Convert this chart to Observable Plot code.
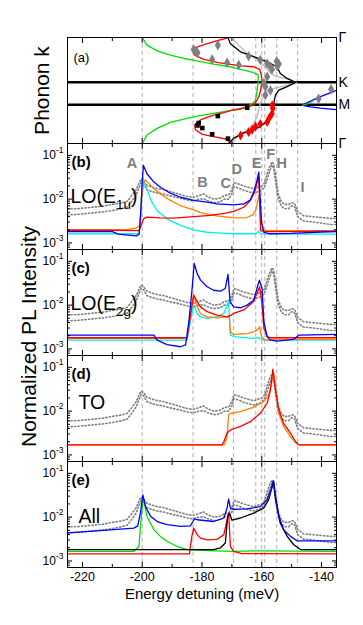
<!DOCTYPE html>
<html><head><meta charset="utf-8">
<script src="https://cdn.jsdelivr.net/npm/d3@7"></script>
<script src="https://cdn.jsdelivr.net/npm/@observablehq/plot@0.6"></script>
<style>
body{margin:0;background:#fff;}
#chart{position:relative;width:363px;height:625px;overflow:hidden;background:#fff;}
</style></head><body><div id="chart"></div>
<script>
// ---------- DATA ----------
// Panel (a): phonon dispersion, [energy detuning meV, k position along Γ-K-M-Γ (0..1)]
const kTicks = [0, 0.423, 0.634, 1];
const kNames = ["Γ", "K", "M", "Γ"];
const aGreen = [[-200,0],[-198.4,0.072],[-195,0.126],[-190.6,0.166],[-186.1,0.198],[-181.6,0.22],[-176.1,0.251],[-170.5,0.276],[-167.1,0.30],[-163,0.33],[-161.2,0.35],[-161.2,0.42],[-161.8,0.55],[-162.2,0.60],[-163.5,0.63],[-167.1,0.678],[-170.5,0.69],[-176.1,0.716],[-181.6,0.741],[-186.1,0.77],[-190.6,0.80],[-195,0.857],[-198.4,0.92],[-200,1]];
const aRed = [[-171,0],[-176.1,0.04],[-181.6,0.088],[-182.8,0.119],[-182.5,0.166],[-179.4,0.207],[-174.5,0.238],[-170.5,0.254],[-167.1,0.267],[-162.7,0.276],[-160.7,0.30],[-160.2,0.35],[-159.9,0.40],[-160.4,0.50],[-161.0,0.56],[-161.6,0.59],[-162.7,0.637],[-166,0.665],[-170,0.685],[-172.7,0.709],[-177.2,0.741],[-180.5,0.778],[-182.5,0.825],[-182.2,0.87],[-179.9,0.914],[-176.1,0.935],[-171.6,0.96],[-170.5,1]];
const aBlack = [[-171.3,0],[-170.5,0.06],[-167.1,0.135],[-162.7,0.18],[-158.2,0.23],[-154.9,0.276],[-153.8,0.339],[-151.5,0.386],[-148.7,0.424],[-151.5,0.464],[-154.3,0.496],[-155.4,0.543],[-155.8,0.59],[-156.0,0.637],[-156.5,0.716],[-158.2,0.79],[-160.5,0.84],[-162.7,0.87],[-166,0.90],[-169.4,0.95],[-171.1,1]];
const aLight = [[-169.9,0],[-168.2,0.06],[-164.9,0.15],[-161.6,0.21],[-158.8,0.276],[-157.1,0.339],[-154.9,0.37],[-150.4,0.40],[-148.2,0.433],[-152,0.455],[-156,0.48],[-158.2,0.50],[-159.5,0.56],[-160.5,0.62],[-161,0.68],[-161.6,0.747],[-162.7,0.81],[-164.9,0.87],[-168.2,0.935],[-169.9,1]];
const aBlue = [[-133,0.47],[-136,0.51],[-140.4,0.558],[-143.7,0.60],[-146.5,0.64],[-143.7,0.655],[-140.4,0.667],[-136,0.678],[-133,0.685]];
const aGreenTip = [[-146.3,0.64],[-144.5,0.625],[-143,0.60]];
const aGrayDia = [[-182.8,0.113],[-182.2,0.13],[-181.5,0.145],[-174.7,0.072],[-176.6,0.207],[-171.6,0.238],[-167.7,0.26],[-164.4,0.176],[-160.5,0.213],[-158.2,0.245],[-157.1,0.276],[-156.6,0.30],[-154.3,0.25],[-154.8,0.27],[-155,0.225],[-158.2,0.37],[-159.3,0.433],[-158.8,0.464],[-157.1,0.50],[-158.8,0.543],[-141,0.577],[-136.8,0.489]];
const aBlackSq = [[-181.1,0.807],[-181.5,0.83],[-179.9,0.854],[-176.6,0.913],[-174.7,0.741],[-171.3,0.954],[-164.9,0.662]];
const aRedDia = [[-156.5,0.64],[-156.3,0.67],[-156.6,0.72],[-157.5,0.76],[-158.2,0.797],[-160.5,0.815],[-162.1,0.84],[-163.2,0.87],[-164.4,0.893],[-167.1,0.925]];

// Experimental PL (gray), [energy meV, log10 intensity] lower / upper edge of the noisy band
const expLo = [[-225,-2.36],[-222,-2.35],[-219,-2.33],[-216,-2.31],[-213,-2.29],[-210,-2.26],[-207,-2.22],[-205,-2.18],[-203.5,-2.05],[-202,-1.90],[-201,-1.72],[-200.3,-1.62],[-199.5,-1.65],[-198.5,-1.78],[-197,-1.82],[-195,-1.86],[-193,-1.88],[-191,-1.92],[-189,-1.95],[-187,-1.98],[-185,-2.02],[-183,-2.04],[-181,-2.00],[-179.5,-1.99],[-178,-2.04],[-176,-2.08],[-174,-2.06],[-172.5,-2.00],[-171,-2.00],[-170,-1.88],[-169.3,-1.72],[-168,-1.74],[-166,-1.80],[-164,-1.84],[-162.5,-1.86],[-161,-1.82],[-160,-1.80],[-159,-1.70],[-158.2,-1.55],[-157.3,-1.35],[-156.6,-1.22],[-156,-1.30],[-155.3,-1.65],[-154.5,-1.98],[-153.5,-2.15],[-152.5,-2.22],[-151,-2.22],[-150,-2.15],[-149,-2.18],[-148,-2.40],[-146,-2.50],[-143,-2.52],[-140,-2.55],[-137,-2.58],[-135,-2.58]];
const expHi = [[-225,-2.22],[-222,-2.22],[-219,-2.20],[-216,-2.18],[-213,-2.16],[-210,-2.12],[-207,-2.09],[-205,-2.05],[-203.5,-1.92],[-202,-1.78],[-201,-1.62],[-200.3,-1.54],[-199.5,-1.58],[-198.5,-1.68],[-197,-1.72],[-195,-1.76],[-193,-1.78],[-191,-1.82],[-189,-1.86],[-187,-1.90],[-185,-1.94],[-183,-1.96],[-181,-1.92],[-179.5,-1.88],[-178,-1.95],[-176,-2.00],[-174,-1.98],[-172.5,-1.92],[-171,-1.90],[-170,-1.78],[-169.3,-1.62],[-168,-1.65],[-166,-1.70],[-164,-1.74],[-162.5,-1.76],[-161,-1.72],[-160,-1.70],[-159,-1.62],[-158.2,-1.42],[-157.3,-1.25],[-156.6,-1.15],[-156,-1.20],[-155.3,-1.50],[-154.5,-1.88],[-153.5,-2.05],[-152.5,-2.12],[-151,-2.12],[-150,-2.08],[-149,-2.10],[-148,-2.28],[-146,-2.38],[-143,-2.40],[-140,-2.42],[-137,-2.44],[-135,-2.44]];

// Panel (b) LO(E1u), [energy meV, log10 intensity]
const bBlue = [[-225,-2.74],[-210,-2.74],[-208,-2.80],[-202,-2.84],[-201,-2.80],[-200.5,-2.3],[-200,-1.6],[-199.6,-1.23],[-198.4,-1.42],[-196.1,-1.61],[-193.9,-1.73],[-190.6,-1.865],[-187.2,-1.957],[-182.8,-2.03],[-178.3,-2.07],[-175,-2.11],[-169.4,-2.13],[-166,-2.11],[-163.8,-2.016],[-162.7,-1.84],[-161.6,-1.575],[-161,-1.386],[-160.5,-2.03],[-160.1,-2.53],[-159.3,-2.76],[-157.7,-2.79],[-150,-2.78],[-140,-2.75],[-135,-2.74]];
const bRed = [[-225,-2.71],[-210,-2.71],[-201.2,-2.72],[-200.3,-2.6],[-199.6,-2.45],[-198.4,-2.41],[-194,-2.43],[-189.4,-2.435],[-182.8,-2.40],[-177.2,-2.37],[-172,-2.32],[-169.4,-2.28],[-166,-2.185],[-163.8,-2.03],[-162.2,-1.80],[-161.4,-1.575],[-161,-1.50],[-160.4,-2.72],[-159,-2.74],[-150,-2.74],[-140,-2.73],[-135,-2.73]];
const bOrange = [[-225,-2.70],[-206,-2.70],[-202,-2.66],[-200.8,-2.6],[-200.2,-2.0],[-199.5,-1.62],[-198.9,-1.56],[-196.1,-1.765],[-193.9,-1.88],[-190.6,-2.03],[-187.2,-2.146],[-182.8,-2.245],[-180.5,-2.31],[-175,-2.38],[-169.4,-2.43],[-165,-2.42],[-163,-2.36],[-162,-2.25],[-161.2,-2.0],[-160.8,-1.9],[-160.3,-2.4],[-159.5,-2.7],[-158,-2.72],[-135,-2.72]];
const bCyan = [[-225,-2.79],[-201.2,-2.79],[-200.6,-2.6],[-200.2,-1.9],[-199.8,-1.50],[-199.3,-1.6],[-198.6,-1.73],[-197.1,-2.03],[-195.1,-2.26],[-191.7,-2.45],[-187.2,-2.60],[-182.8,-2.70],[-178.3,-2.756],[-175,-2.77],[-169.4,-2.79],[-162,-2.79],[-161,-2.73],[-160.5,-2.79],[-150,-2.80],[-135,-2.80]];

// Panel (c) LO(E2g)
const cBlue = [[-225,-2.685],[-196.1,-2.685],[-195,-2.80],[-191.7,-2.90],[-187.2,-2.95],[-185.5,-2.91],[-184.4,-2.38],[-183.3,-1.62],[-182.6,-1.05],[-181.6,-1.28],[-180.5,-1.43],[-178.3,-1.58],[-176.1,-1.66],[-173.8,-1.68],[-172.2,-1.62],[-171.3,-1.30],[-170.6,-1.92],[-169.4,-2.04],[-167.1,-2.06],[-164.9,-2.0],[-162.7,-1.89],[-161.6,-1.62],[-160.8,-1.43],[-159.9,-1.62],[-159.3,-2.38],[-158.2,-2.72],[-157.1,-2.80],[-154.9,-2.82],[-149.3,-2.78],[-147.6,-2.685],[-135,-2.67]];
const cRed = [[-225,-2.745],[-185,-2.745],[-183.9,-2.23],[-182.8,-1.77],[-181.6,-1.92],[-180.5,-2.04],[-178.3,-2.15],[-175,-2.23],[-171.6,-2.27],[-170.5,-2.24],[-169.4,-2.19],[-166,-2.11],[-162.7,-1.92],[-161.6,-1.73],[-160.7,-1.58],[-159.9,-2.0],[-159.3,-2.53],[-158.2,-2.72],[-157,-2.745],[-135,-2.745]];
const cOrange = [[-225,-2.76],[-187,-2.76],[-185,-2.74],[-183.6,-2.15],[-182.8,-1.77],[-181.6,-2.04],[-180.5,-2.19],[-178.3,-2.27],[-175,-2.29],[-171.6,-2.27],[-170.9,-2.23],[-170.5,-2.61],[-169.4,-2.67],[-164.9,-2.65],[-162.7,-2.61],[-161.6,-2.57],[-160.7,-2.50],[-160.1,-2.72],[-158.8,-2.80],[-157,-2.78],[-135,-2.78]];
const cCyan = [[-225,-2.80],[-185,-2.80],[-183.9,-2.38],[-182.8,-2.0],[-181.6,-2.19],[-180.5,-2.27],[-178.3,-2.30],[-175,-2.27],[-172.7,-2.19],[-171.6,-2.0],[-171.1,-1.92],[-170.5,-2.685],[-169.4,-2.72],[-162.7,-2.76],[-161.2,-2.74],[-159.3,-2.80],[-135,-2.80]];

// Panel (d) TO
const dRed = [[-225,-2.77],[-173.3,-2.77],[-172.7,-2.70],[-171.6,-2.50],[-170.5,-2.43],[-167.1,-2.35],[-163.8,-2.24],[-160.5,-2.05],[-158.2,-1.82],[-157.1,-1.52],[-156.3,-1.04],[-155.4,-1.52],[-154.3,-1.97],[-152.7,-2.28],[-150.4,-2.50],[-148.7,-2.70],[-147.6,-2.77],[-135,-2.77]];
const dOrange = [[-225,-2.77],[-172.5,-2.77],[-171.6,-2.58],[-171.1,-2.09],[-170.5,-2.05],[-167.1,-2.01],[-162.7,-1.91],[-159.3,-1.78],[-157.7,-1.63],[-156.5,-1.29],[-156.0,-1.14],[-155.4,-1.45],[-154.3,-2.05],[-152.7,-2.35],[-150.4,-2.58],[-148.2,-2.75],[-147.5,-2.77],[-135,-2.77]];

// Panel (e) All
const eBlue = [[-225,-2.36],[-214,-2.31],[-202.8,-2.25],[-201.5,-2.2],[-200.6,-1.91],[-199.8,-1.49],[-198.9,-1.76],[-197.2,-1.98],[-195,-2.10],[-191.7,-2.17],[-187.2,-2.21],[-183.9,-2.20],[-183,-2.10],[-182.5,-2.04],[-181.6,-2.06],[-176.1,-2.10],[-172.7,-2.02],[-171.6,-1.79],[-171.1,-1.59],[-170.5,-1.79],[-169.4,-1.82],[-164.9,-1.81],[-160.5,-1.76],[-158.2,-1.60],[-156.9,-1.37],[-156.2,-1.18],[-155.4,-1.53],[-154.3,-1.98],[-152.7,-2.29],[-150.4,-2.44],[-148.2,-2.54],[-135,-2.54]];
const eBlack = [[-225,-2.74],[-176.1,-2.74],[-173.8,-2.70],[-172.2,-2.59],[-171.4,-1.98],[-170.8,-1.91],[-170.0,-2.07],[-167.1,-2.02],[-162.7,-1.91],[-159.3,-1.79],[-157.7,-1.60],[-156.5,-1.30],[-156.0,-1.18],[-155.4,-1.60],[-153.8,-2.14],[-151.5,-2.44],[-149.3,-2.63],[-147,-2.74],[-135,-2.74]];
const eGreen = [[-225,-2.78],[-202.8,-2.78],[-201.1,-2.67],[-200.2,-1.91],[-199.6,-1.56],[-198.4,-1.98],[-196.1,-2.29],[-193.9,-2.44],[-191.7,-2.55],[-188.3,-2.67],[-185,-2.74],[-180.5,-2.76],[-170,-2.78],[-161,-2.77],[-135,-2.78]];
const eRed = [[-225,-2.84],[-184.2,-2.84],[-183.4,-2.44],[-182.8,-2.25],[-181.6,-2.40],[-180.5,-2.48],[-178.3,-2.52],[-175,-2.51],[-172.7,-2.40],[-171.6,-2.06],[-171.1,-1.91],[-170.5,-2.67],[-169.4,-2.78],[-167,-2.83],[-135,-2.84]];

// Peak labels (panel b) and dashed reference energies
const peakNames = ["A","B","C","D","E","F","H","I"];
const peakE = [-203.4,-179.8,-172.1,-168.4,-161.7,-157,-153.3,-146.4];
const peakLog = [-1.19,-1.61,-1.64,-1.33,-1.18,-0.98,-1.18,-1.74];
const dashE = [-200,-183,-169.5,-162,-160,-159,-155,-148];

// Tick labels
const xTickLabels = [-220,-200,-180,-160,-140];
const xMinorTicks = [-210,-190,-170,-150];
const yTickLabels = [1e-3, 1e-2, 1e-1];

// ---------- LAYOUT ----------
const FONT = "Arial, 'Liberation Sans', sans-serif";
const W = 363, ML = 67, MR = 27, PH = 106, PAD = 10;
const tops = [37, 143, 249, 355, 461];
const xDomain = [-225, -135];
const logDomain = [Math.pow(10, -3.15), Math.pow(10, -0.73)];
const chart = document.getElementById("chart");

const C = {blue:"#0000ff", red:"#ff0000", orange:"#ff8000", cyan:"#00f0f0", green:"#00e000", black:"#000000", gray:"#7f7f7f", light:"#b8b8b8", dash:"#b0b0b0"};

const kRows = arr => arr.map(([e, k]) => ({e, k}));
const lRows = arr => arr.map(([e, l]) => ({e, v: Math.pow(10, l)}));

const yMinorTicks = [];
for (let p = -4; p <= -1; p++) for (let m = 2; m <= 9; m++) {
  const v = m * Math.pow(10, p);
  if (v > logDomain[0] && v < logDomain[1]) yMinorTicks.push(v);
}

function xFrameTicks() {
  return [
    Plot.axisX({anchor: "bottom", ticks: xTickLabels, tickSize: 5, dy: -5, fill: "none", label: null}),
    Plot.axisX({anchor: "bottom", ticks: xMinorTicks, tickSize: 3, dy: -3, fill: "none", label: null}),
    Plot.axisX({anchor: "top", ticks: xTickLabels, tickSize: 5, dy: 5, fill: "none", label: null}),
    Plot.axisX({anchor: "top", ticks: xMinorTicks, tickSize: 3, dy: 3, fill: "none", label: null})
  ];
}
function yLogTicks() {
  return [
    Plot.axisY({anchor: "left", ticks: yTickLabels, tickSize: 5, dx: 5, fill: "none", label: null}),
    Plot.axisY({anchor: "left", ticks: yMinorTicks, tickSize: 3, dx: 3, fill: "none", label: null}),
    Plot.axisY({anchor: "right", ticks: yTickLabels, tickSize: 5, dx: -5, fill: "none", label: null}),
    Plot.axisY({anchor: "right", ticks: yMinorTicks, tickSize: 3, dx: -3, fill: "none", label: null}),
    Plot.axisY({anchor: "left", ticks: yTickLabels, tickSize: 0, tickPadding: 4, fontSize: 12,
      tickFormat: d => "10^" + Math.round(Math.log10(d)), label: null})
  ];
}
function dashRules() {
  return Plot.ruleX(dashE, {x: d => d, stroke: C.dash, strokeDasharray: "4,3", strokeWidth: 1});
}
function expMarks() {
  return [
    Plot.line(lRows(expLo), {x: "e", y: "v", stroke: C.gray, strokeWidth: 1.6, strokeDasharray: "1.2,2.3"}),
    Plot.line(lRows(expHi), {x: "e", y: "v", stroke: C.gray, strokeWidth: 1.6, strokeDasharray: "1.2,2.3"})
  ];
}
const ln = (arr, color) => Plot.line(lRows(arr), {x: "e", y: "v", stroke: color, strokeWidth: 1.3});

function fixText(svg) {
  // drop invisible tick-label groups of the tick-only axes
  d3.select(svg).selectAll("g").filter(function () {
    return this.getAttribute("fill") === "none" && this.querySelector("text");
  }).remove();
  d3.select(svg).selectAll("text").each(function () {
    const t = this.textContent;
    let m = /^10\^(-?\d+)$/.exec(t);
    if (m) {
      const s = d3.select(this); s.text("");
      s.append("tspan").text("10");
      s.append("tspan").attr("dy", -6).attr("font-size", 8.5).text(m[1]);
      return;
    }
    m = /^(.*)_\{(.*)\}(.*)$/.exec(t);
    if (m) {
      const s = d3.select(this); s.text("");
      s.append("tspan").text(m[1]);
      s.append("tspan").attr("dy", 6).attr("font-size", 13.5).text(m[2]);
      s.append("tspan").attr("dy", -6).text(m[3]);
    }
  });
}
function place(svg, top) {
  fixText(svg);
  svg.style.position = "absolute";
  svg.style.left = "0px";
  svg.style.top = top + "px";
  svg.style.overflow = "visible";
  svg.style.background = "transparent";
  chart.appendChild(svg);
}
const baseStyle = {fontFamily: FONT, fontSize: "12px", background: "transparent", overflow: "visible", color: "black"};

// ---------- PANEL (a) ----------
place(Plot.plot({
  width: W, height: PH + 2 * PAD, marginLeft: ML, marginRight: MR, marginTop: PAD, marginBottom: PAD,
  style: baseStyle,
  x: {domain: xDomain},
  y: {domain: [0, 1], reverse: true},
  marks: [
    dashRules(),
    Plot.ruleY([kTicks[1], kTicks[2]], {y: d => d, stroke: "black", strokeWidth: 2.5}),
    Plot.line(kRows(aLight), {x: "e", y: "k", stroke: C.light, strokeWidth: 1.3, clip: true}),
    Plot.line(kRows(aGreen), {x: "e", y: "k", stroke: C.green, strokeWidth: 1.3, clip: true}),
    Plot.line(kRows(aRed), {x: "e", y: "k", stroke: C.red, strokeWidth: 1.3, clip: true}),
    Plot.line(kRows(aBlack), {x: "e", y: "k", stroke: C.black, strokeWidth: 1.3, clip: true}),
    Plot.line(kRows(aBlue), {x: "e", y: "k", stroke: C.blue, strokeWidth: 1.3, clip: true}),
    Plot.line(kRows(aGreenTip), {x: "e", y: "k", stroke: C.green, strokeWidth: 1.3, clip: true}),
    Plot.dot(kRows(aGrayDia), {x: "e", y: "k", symbol: "diamond", r: 3.2, fill: C.gray, stroke: "none"}),
    Plot.dot(kRows(aBlackSq), {x: "e", y: "k", symbol: "square", r: 2.6, fill: "black", stroke: "none"}),
    Plot.dot(kRows(aRedDia), {x: "e", y: "k", symbol: "diamond", r: 3, fill: C.red, stroke: "none"}),
    ...xFrameTicks(),
    Plot.axisY({anchor: "right", ticks: kTicks, tickSize: 0, tickPadding: 2, fontSize: 14,
      tickFormat: d => kNames[kTicks.indexOf(d)], label: null}),
    Plot.text(["(a)"], {text: d => d, frameAnchor: "top-left", dx: 6, dy: 15, fontSize: 13, textAnchor: "start"}),
    Plot.text(["Phonon k"], {text: d => d, frameAnchor: "left", dx: -25.5, rotate: -90, fontSize: 21, textAnchor: "middle"}),
    Plot.frame({stroke: "black", strokeWidth: 1})
  ]
}), tops[0] - PAD);

// ---------- LOG PANELS ----------
function logPanel(top, letter, name, nameDx, nameDy, lines, extra, mb) {
  const marginBottom = mb || PAD;
  return place(Plot.plot({
    width: W, height: PH + PAD + marginBottom, marginLeft: ML, marginRight: MR, marginTop: PAD, marginBottom,
    style: baseStyle,
    x: {domain: xDomain},
    y: {type: "log", domain: logDomain},
    marks: [
      dashRules(),
      ...expMarks(),
      ...lines,
      ...(extra || []),
      ...xFrameTicks(),
      ...yLogTicks(),
      Plot.text([letter], {text: d => d, frameAnchor: "top-left", dx: 4, dy: 13, fontSize: 15, fontWeight: "bold", textAnchor: "start"}),
      Plot.text([name], {text: d => d, frameAnchor: "top-left", dx: nameDx, dy: nameDy, fontSize: 19.5, textAnchor: "start"}),
      Plot.frame({stroke: "black", strokeWidth: 1})
    ]
  }), top - PAD);
}

const peakRows = peakNames.map((n, i) => ({n, e: peakE[i], v: Math.pow(10, peakLog[i])}));
logPanel(tops[1], "(b)", "LO(E_{1u})", 3, 46,
  [ln(bCyan, C.cyan), ln(bOrange, C.orange), ln(bRed, C.red), ln(bBlue, C.blue)],
  [Plot.text(peakRows, {x: "e", y: "v", text: "n", fontSize: 14.5, fontWeight: "bold", fill: C.gray})]);

logPanel(tops[2], "(c)", "LO(E_{2g})", 3, 47,
  [ln(cCyan, C.cyan), ln(cOrange, C.orange), ln(cRed, C.red), ln(cBlue, C.blue)],
  [Plot.text(["Normalized PL Intensity"], {text: d => d, frameAnchor: "left", dx: -38, dy: 34, rotate: -90, fontSize: 21, textAnchor: "middle"})]);

logPanel(tops[3], "(d)", "TO", 11, 40,
  [ln(dOrange, C.orange), ln(dRed, C.red)]);

logPanel(tops[4], "(e)", "All", 11, 48,
  [ln(eGreen, C.green), ln(eRed, C.red), ln(eBlack, C.black), ln(eBlue, C.blue)],
  [
    Plot.axisX({anchor: "bottom", ticks: xTickLabels, tickSize: 0, tickPadding: 5, fontSize: 12.5, tickFormat: d => String(d), label: null}),
    Plot.text(["Energy detuning (meV)"], {text: d => d, frameAnchor: "bottom", dy: 31, fontSize: 15})
  ], 58);
</script></body></html>
